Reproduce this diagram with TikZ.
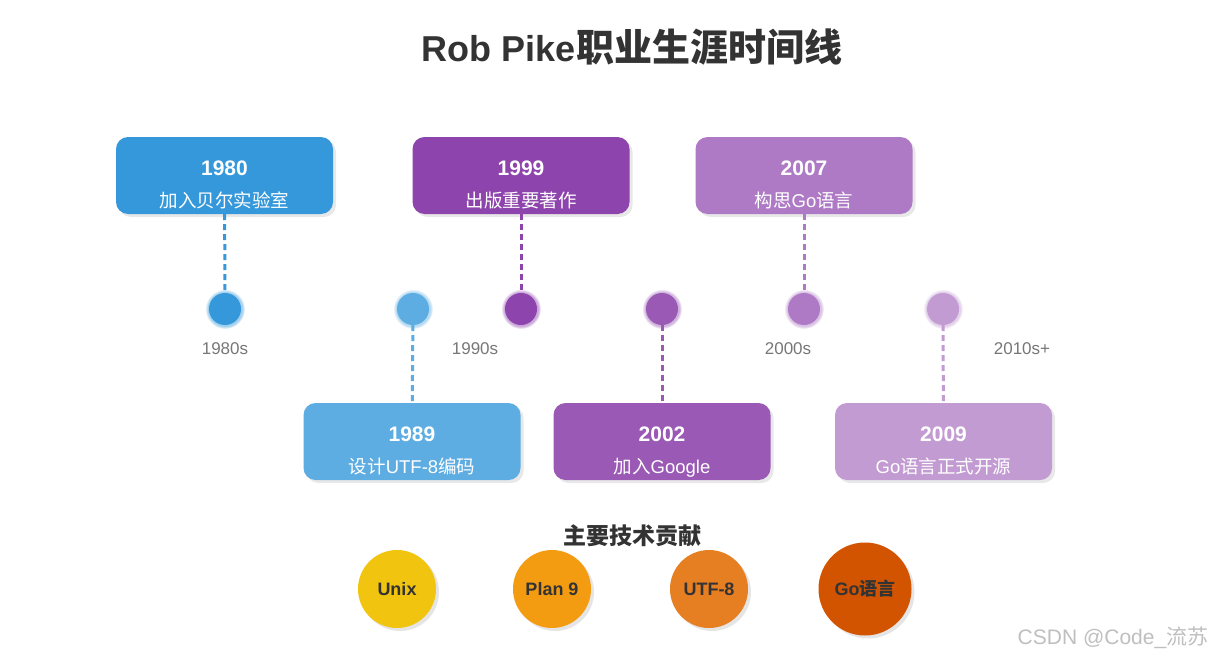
\documentclass[tikz,border=0pt]{standalone}
\usepackage{fontspec}
\setmainfont{Liberation Sans}
\newfontfamily\cjk{Noto Sans CJK SC}
\usetikzlibrary{shadows, positioning}
\definecolor{c1980}{HTML}{3498DB}
\definecolor{c1989}{HTML}{5DADE2}
\definecolor{c1999}{HTML}{8E44AD}
\definecolor{c2002}{HTML}{9B59B6}
\definecolor{c2007}{HTML}{AF7AC5}
\definecolor{c2009}{HTML}{C39BD3}
\definecolor{cunix}{HTML}{F1C40F}
\definecolor{cplan}{HTML}{F39C12}
\definecolor{cutf}{HTML}{E67E22}
\definecolor{cgo}{HTML}{D35400}
\definecolor{darktext}{HTML}{333333}
\definecolor{decadetext}{HTML}{777777}

\begin{document}
\begin{tikzpicture}[x=1pt, y=-1pt,
  event/.style={rounded corners=12pt, minimum width=217pt,
    minimum height=77pt, inner sep=0pt, text=white, align=center,
    font=\fontsize{18.5}{32}\selectfont,
    text height=63pt, text depth=0pt,
    drop shadow={opacity=0.18, shadow xshift=3pt, shadow yshift=-3pt}},
  dot/.style={circle, minimum size=32pt, inner sep=0pt,
    circular glow={fill=#1, opacity=0.45}, fill=#1},
  dashline/.style={line width=3pt, dash pattern=on 6pt off 4pt},
  decade/.style={text=decadetext, font=\fontsize{17}{20}\selectfont},
  contrib/.style={circle, inner sep=0pt, text=darktext,
    font=\bfseries\fontsize{18}{20}\selectfont,
    drop shadow={opacity=0.2, shadow xshift=3pt, shadow yshift=-3pt}}]

  \useasboundingbox (0,0) rectangle (1217,661);
  \fill[white] (0,0) rectangle (1217,661);

  % Title
  \node[text=darktext, font=\bfseries\fontsize{36}{40}\selectfont]
    (title) at (632,47) {Rob Pike{\cjk\fontsize{38}{40}\selectfont 职业生涯时间线}};

  % Events above the line
  \node[event, fill=c1980] (b1980) at (224.5,175.5)
    {{\bfseries\fontsize{21}{32}\selectfont 1980}\\{\cjk 加入贝尔实验室}};
  \node[event, fill=c1999] (b1999) at (521,175.5)
    {{\bfseries\fontsize{21}{32}\selectfont 1999}\\{\cjk 出版重要著作}};
  \node[event, fill=c2007] (b2007) at (804,175.5)
    {{\bfseries\fontsize{21}{32}\selectfont 2007}\\{\cjk 构思}Go{\cjk 语言}};

  % Events below the line
  \node[event, fill=c1989] (b1989) at (412,441.5)
    {{\bfseries\fontsize{21}{32}\selectfont 1989}\\{\cjk 设计}UTF-8{\cjk 编码}};
  \node[event, fill=c2002] (b2002) at (662,441.5)
    {{\bfseries\fontsize{21}{32}\selectfont 2002}\\{\cjk 加入}Google};
  \node[event, fill=c2009] (b2009) at (943.5,441.5)
    {{\bfseries\fontsize{21}{32}\selectfont 2009}\\Go{\cjk 语言正式开源}};

  % Dots
  \node[dot=c1980] (d1980) at (225,309) {};
  \node[dot=c1989] (d1989) at (413,309) {};
  \node[dot=c1999] (d1999) at (521,309) {};
  \node[dot=c2002] (d2002) at (662,309) {};
  \node[dot=c2007] (d2007) at (804,309) {};
  \node[dot=c2009] (d2009) at (943,309) {};

  % Decades
  \node[decade] (dec80) at (225,349) {1980s};
  \node[decade] (dec90) at (475,349) {1990s};
  \node[decade] (dec00) at (788,349) {2000s};
  \node[decade] (dec10) at (1022,349) {2010s+};

  \draw[dashline, c1980] (b1980) -- (d1980);
  \draw[dashline, c1999] (b1999) -- (d1999);
  \draw[dashline, c2007] (b2007) -- (d2007);
  \draw[dashline, c1989] (d1989) -- (b1989);
  \draw[dashline, c2002] (d2002) -- (b2002);
  \draw[dashline, c2009] (d2009) -- (b2009);

  % Contributions
  \node[text=darktext, font=\bfseries\fontsize{23}{26}\selectfont\cjk]
    (contribs) at (632,536) {主要技术贡献};
  \node[contrib, fill=cunix, minimum size=78pt] (unix) at (397,589) {Unix};
  \node[contrib, fill=cplan, minimum size=78pt] (plan9) at (552,589) {Plan 9};
  \node[contrib, fill=cutf, minimum size=78pt] (utf8) at (709,589) {UTF-8};
  \node[contrib, fill=cgo, minimum size=93pt] (golang) at (865,589)
    {Go{\cjk 语言}};

  % Watermark
  \node[text=black!25, font=\fontsize{21}{24}\selectfont] (mark)
    at (1113,638) {CSDN @Code\_{\cjk 流苏}};

\end{tikzpicture}
\end{document}
